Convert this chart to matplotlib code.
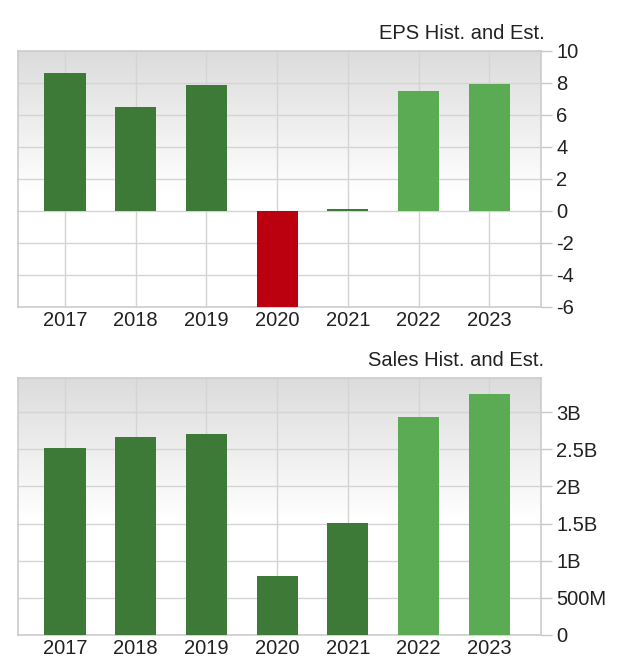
import numpy as np
import matplotlib
matplotlib.use("Agg")
import matplotlib.pyplot as plt
from matplotlib.colors import LinearSegmentedColormap

plt.rcParams['font.family'] = ['Liberation Sans', 'DejaVu Sans']

years = ["2017", "2018", "2019", "2020", "2021", "2022", "2023"]
eps_values = [8.6, 6.47, 7.85, -6.05, 0.1, 7.52, 7.91]
sales_values = [2.52e9, 2.67e9, 2.70e9, 0.80e9, 1.51e9, 2.94e9, 3.24e9]
is_estimate = [False, False, False, False, False, True, True]

eps_ticks = [10, 8, 6, 4, 2, 0, -2, -4, -6]
eps_tick_labels = ["10", "8", "6", "4", "2", "0", "-2", "-4", "-6"]
sales_ticks = [0, 0.5e9, 1e9, 1.5e9, 2e9, 2.5e9, 3e9]
sales_tick_labels = ["0", "500M", "1B", "1.5B", "2B", "2.5B", "3B"]

DARK = "#3d7a38"
LIGHT = "#5aab54"
RED = "#bb0010"
GRID = "#d4d4d4"

fig = plt.figure(figsize=(6.2, 6.64), dpi=100)

def bg(ax):
    cmap = LinearSegmentedColormap.from_list("g", [(0, "#dcdcdc"), (0.55, "#ffffff"), (1, "#ffffff")])
    grad = np.linspace(0, 1, 256).reshape(-1, 1)
    ax.imshow(grad, cmap=cmap, aspect="auto", extent=[0, 1, 0, 1],
              transform=ax.transAxes, zorder=0, origin="upper")

def style(ax, title, ticks, labels, ylim):
    x = np.arange(len(years))
    ax.set_xlim(-0.665, 6.73)
    ax.set_ylim(*ylim)
    bg(ax)
    ax.set_xticks(x)
    ax.set_xticklabels(years, fontsize=14.5, color="#222222")
    ax.set_yticks(ticks)
    ax.set_yticklabels(labels, fontsize=14.5, color="#222222")
    ax.yaxis.tick_right()
    ax.tick_params(axis="y", length=8, width=1, color="#c8c8c8", pad=3)
    ax.tick_params(axis="x", length=0, pad=3)
    ax.grid(True, color=GRID, linewidth=1, zorder=1)
    ax.set_axisbelow(True)
    for s in ax.spines.values():
        s.set_color("#cccccc")
        s.set_linewidth(1.2)
    ax.text(1.0066, 1.03, title, transform=ax.transAxes, ha="right", va="bottom",
            fontsize=14.5, color="#222222")

ax1 = fig.add_axes([0.029, 0.5377, 0.8435, 0.3855])
x = np.arange(len(years))
c1 = []
for v, est in zip(eps_values, is_estimate):
    if v < 0:
        c1.append(RED)
    else:
        c1.append(LIGHT if est else DARK)
style(ax1, "EPS Hist. and Est.", eps_ticks, eps_tick_labels, (-6, 10))
ax1.bar(x, eps_values, width=0.58, color=c1, zorder=3, edgecolor="none")

ax2 = fig.add_axes([0.029, 0.0437, 0.8435, 0.387])
c2 = [LIGHT if est else DARK for est in is_estimate]
style(ax2, "Sales Hist. and Est.", sales_ticks, sales_tick_labels, (0, 3.46e9))
ax2.bar(x, sales_values, width=0.58, color=c2, zorder=3, edgecolor="none")

fig.savefig("out.png", dpi=100)
